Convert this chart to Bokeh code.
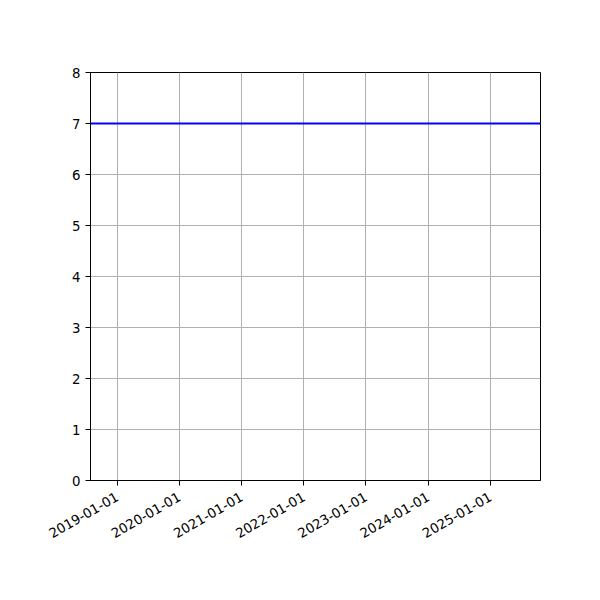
import math
from datetime import datetime
from bokeh.plotting import figure
from bokeh.models import Range1d, FixedTicker, DatetimeTickFormatter
from bokeh.embed import file_html
from bokeh.resources import INLINE

# data
line_dates = [datetime(2018, 7, 29), datetime(2025, 10, 22)]
line_values = [7, 7]
x_start = datetime(2018, 7, 29)
x_end = datetime(2025, 10, 22)
tick_years = [2019, 2020, 2021, 2022, 2023, 2024, 2025]
y_ticks = [0, 1, 2, 3, 4, 5, 6, 7, 8]


def ms(d):
    return (d - datetime(1970, 1, 1)).total_seconds() * 1000.0


p = figure(width=584, height=584, x_axis_type="datetime",
           output_backend="svg", toolbar_location=None,
           x_range=Range1d(ms(x_start), ms(x_end)), y_range=Range1d(0, 8),
           min_border_left=90, min_border_right=44, min_border_top=72,
           min_border_bottom=104)

p.line(line_dates, line_values, line_color="#0000ff", line_width=2)

p.xaxis.ticker = FixedTicker(ticks=[ms(datetime(y, 1, 1)) for y in tick_years])
fmt = "%Y-%m-%d"
p.xaxis.formatter = DatetimeTickFormatter(years=fmt, months=fmt, days=fmt, hours=fmt,
                                          hourmin=fmt, minutes=fmt, minsec=fmt,
                                          seconds=fmt, milliseconds=fmt, microseconds=fmt)
p.xaxis.major_label_orientation = math.pi / 6
p.yaxis.ticker = FixedTicker(ticks=y_ticks)

for ax in (p.xaxis, p.yaxis):
    ax.major_label_text_font = "DejaVu Sans"
    ax.major_label_text_font_size = "13.33px"
    ax.major_label_text_color = "black"
    ax.axis_line_color = "black"
    ax.major_tick_line_color = "black"
    ax.major_tick_out = 5
    ax.major_tick_in = 0
    ax.minor_tick_line_color = None

p.xaxis.major_label_standoff = 10
p.grid.grid_line_color = "#b0b0b0"
p.grid.grid_line_width = 1
p.outline_line_color = "black"
p.outline_line_width = 1
p.background_fill_color = "white"
p.border_fill_color = "white"

open("out.html", "w").write(file_html(p, INLINE))
